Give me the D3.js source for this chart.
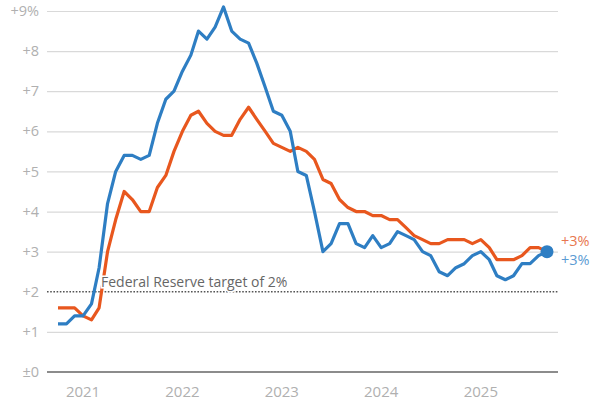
<!DOCTYPE html>
<html>
<head>
<meta charset="utf-8">
<script src="https://cdn.jsdelivr.net/npm/d3@7"></script>
<style>
  body { margin: 0; background: #fff; }
  text { font-family: "Open Sans", "Noto Sans", sans-serif; }
</style>
</head>
<body>
<div class="wrapper"></div>
<script>
width = 600;
height = 400;

// monthly, Oct 2020 .. Sep 2025
startMonth = "2020-10";
headline = [1.2, 1.2, 1.4, 1.4, 1.7, 2.6, 4.2, 5.0, 5.4, 5.4, 5.3, 5.4,
  6.2, 6.8, 7.0, 7.5, 7.9, 8.5, 8.3, 8.6, 9.1, 8.5, 8.3, 8.2,
  7.7, 7.1, 6.5, 6.4, 6.0, 5.0, 4.9, 4.0, 3.0, 3.2, 3.7, 3.7,
  3.2, 3.1, 3.4, 3.1, 3.2, 3.5, 3.4, 3.3, 3.0, 2.9, 2.5, 2.4,
  2.6, 2.7, 2.9, 3.0, 2.8, 2.4, 2.3, 2.4, 2.7, 2.7, 2.9, 3.0];
core = [1.6, 1.6, 1.6, 1.4, 1.3, 1.6, 3.0, 3.8, 4.5, 4.3, 4.0, 4.0,
  4.6, 4.9, 5.5, 6.0, 6.4, 6.5, 6.2, 6.0, 5.9, 5.9, 6.3, 6.6,
  6.3, 6.0, 5.7, 5.6, 5.5, 5.6, 5.5, 5.3, 4.8, 4.7, 4.3, 4.1,
  4.0, 4.0, 3.9, 3.9, 3.8, 3.8, 3.6, 3.4, 3.3, 3.2, 3.2, 3.3,
  3.3, 3.3, 3.2, 3.3, 3.1, 2.8, 2.8, 2.8, 2.9, 3.1, 3.1, 3.0];
yTicks = [0, 1, 2, 3, 4, 5, 6, 7, 8, 9];
xYears = ["2021", "2022", "2023", "2024", "2025"];
target = 2;
targetLabel = "Federal Reserve target of 2%";
endLabels = ["+3%", "+3%"];

blue = "#2e7ec3";
orange = "#e8571e";

parseMonth = d3.timeParse("%Y-%m");
t0 = parseMonth(startMonth);
dates = headline.map(function (d, i) { return d3.timeMonth.offset(t0, i) });

scaleX = d3.scaleTime().domain([dates[0], dates[dates.length - 1]]).range([58, 547]);
scaleY = d3.scaleLinear().domain([0, 9]).range([372, 11]);

svg = d3.select(".wrapper")
  .append("svg")
  .attr("width", width)
  .attr("height", height);

/* Grid */
var grid = svg.append("g")
  .attr("transform", "translate(558,0)")
  .call(d3.axisLeft(scaleY).tickValues(yTicks.filter(function (v) { return v != 0 && v != target }))
    .tickSize(511).tickFormat(""));
grid.select(".domain").remove();
grid.selectAll("line").attr("stroke", "#d9d9d9").attr("stroke-width", 1.2);

// y labels
svg.append("g").selectAll("text")
  .data(yTicks)
  .enter().append("text")
  .attr("x", 39)
  .attr("y", function (d) { return scaleY(d) })
  .attr("dy", "0.35em")
  .attr("text-anchor", "end")
  .attr("font-size", 14.5)
  .attr("fill", "#b0b0b0")
  .text(function (d, i) {
    if (d == 0) return "±0";
    return "+" + d + (i == yTicks.length - 1 ? "%" : "");
  });

// x labels
svg.append("g").selectAll("text")
  .data(xYears)
  .enter().append("text")
  .attr("x", function (d) { return scaleX(parseMonth(d + "-01")) })
  .attr("y", 397)
  .attr("text-anchor", "middle")
  .attr("font-size", 15)
  .attr("fill", "#b0b0b0")
  .text(function (d) { return d });

// zero line
svg.append("line")
  .attr("x1", 47).attr("x2", 558)
  .attr("y1", scaleY(0)).attr("y2", scaleY(0))
  .attr("stroke", "#666").attr("stroke-width", 1.5);

// target line
svg.append("line")
  .attr("x1", 47).attr("x2", 558)
  .attr("y1", scaleY(target)).attr("y2", scaleY(target))
  .attr("stroke", "#555").attr("stroke-width", 1.6)
  .attr("stroke-dasharray", "1.6,1.6");

/* Lines */
var line = d3.line()
  .x(function (d, i) { return scaleX(dates[i]) })
  .y(function (d) { return scaleY(d) });

svg.append("path")
  .attr("d", line(core))
  .attr("fill", "none")
  .attr("stroke", orange)
  .attr("stroke-width", 3.2)
  .attr("stroke-linejoin", "round");

svg.append("path")
  .attr("d", line(headline))
  .attr("fill", "none")
  .attr("stroke", blue)
  .attr("stroke-width", 3.2)
  .attr("stroke-linejoin", "round");

// target annotation with white halo
svg.append("text")
  .attr("x", 101)
  .attr("y", scaleY(target) - 5)
  .attr("font-size", 14)
  .attr("fill", "#666")
  .attr("stroke", "#fff")
  .attr("stroke-width", 3)
  .attr("paint-order", "stroke")
  .text(targetLabel);

// end dot
var last = headline.length - 1;
svg.append("circle")
  .attr("cx", scaleX(dates[last]))
  .attr("cy", scaleY(headline[last]))
  .attr("r", 6.5)
  .attr("fill", blue);

// end labels
svg.append("text")
  .attr("x", 561).attr("y", 246)
  .attr("font-size", 14.5)
  .attr("fill", "#e8774f")
  .text(endLabels[1]);
svg.append("text")
  .attr("x", 561).attr("y", 265)
  .attr("font-size", 14.5)
  .attr("fill", "#5b9bd3")
  .text(endLabels[0]);
</script>
</body>
</html>
